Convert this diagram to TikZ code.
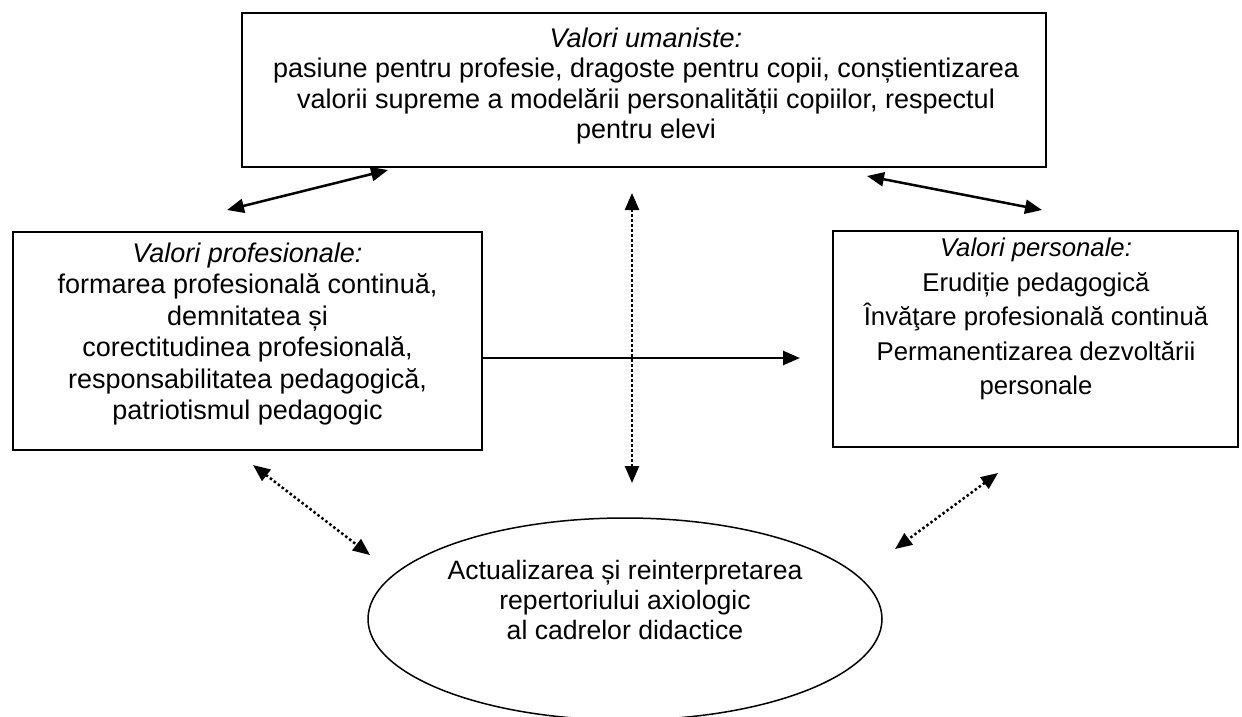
\documentclass[tikz,border=0pt]{standalone}
\usepackage{fontspec}
\setmainfont{Liberation Sans}
\usetikzlibrary{arrows.meta,shapes.geometric}
\tikzset{
    valbox/.style={draw,rectangle,line width=2pt,inner sep=0pt},
    goal/.style={draw,ellipse,line width=1.5pt,inner sep=0pt},
    valtext/.style={align=center,inner sep=0pt,font=\fontsize{27}{31}\selectfont},
    link/.style={line width=2.5pt,{Triangle[length=17pt,width=14pt]}-{Triangle[length=17pt,width=14pt]}},
    dotlink/.style={link,dash pattern=on 2.5pt off 2.5pt},
    flow/.style={line width=2.5pt,-{Triangle[length=17pt,width=14pt]}},
}

\begin{document}
\begin{tikzpicture}[x=1pt,y=-1pt]
    \useasboundingbox (0,0) rectangle (1242,717);
    \clip (0,0) rectangle (1242,717);

    % boxes
    \node[valbox,minimum width=804,minimum height=154] (uman) at (644,90) {};
    \node[valbox,minimum width=469,minimum height=218] (prof) at (247.5,341) {};
    \node[valbox,minimum width=405,minimum height=216] (pers) at (1035.5,339) {};
    \node[goal,minimum width=514,minimum height=202] (act) at (625,619) {};

    % texts
    \node[valtext,font=\fontsize{27}{30.3}\selectfont] (umantext) at (646,86)
        {\textit{Valori umaniste:}\\pasiune pentru profesie, dragoste pentru copii, conștientizarea\\valorii supreme a modelării personalității copiilor, respectul\\pentru elevi};
    \node[valtext,font=\fontsize{27}{31.4}\selectfont] (proftext) at (247.5,334)
        {\textit{Valori profesionale:}\\formarea profesională continuă,\\demnitatea și\\corectitudinea profesională,\\responsabilitatea pedagogică,\\patriotismul pedagogic};
    \node[valtext,font=\fontsize{25.7}{34.6}\selectfont] (perstext) at (1036,319)
        {\textit{Valori personale:}\\Erudiție pedagogică\\Învăţare profesională continuă\\Permanentizarea dezvoltării\\personale};
    \node[valtext,font=\fontsize{26.6}{30}\selectfont] (acttext) at (625,600)
        {Actualizarea și reinterpretarea\\repertoriului axiologic\\al cadrelor didactice};

    % arrow ends
    \coordinate (ul) at (227,210);
    \coordinate (ur) at (388,170);
    \coordinate (rl) at (867,176);
    \coordinate (rr) at (1042,210);
    \coordinate (vt) at (632,193);
    \coordinate (vb) at (632,483);
    \coordinate (hr) at (800,358);
    \coordinate (lt) at (253,465);
    \coordinate (lb) at (370,555);
    \coordinate (rt) at (998,473);
    \coordinate (rb) at (895,549);

    \draw[link] (ul) -- (ur);
    \draw[link] (rl) -- (rr);
    \draw[dotlink] (vt) -- (vb);
    \draw[flow] (prof.east |- hr) -- (hr);
    \draw[dotlink] (lt) -- (lb);
    \draw[dotlink] (rt) -- (rb);
\end{tikzpicture}
\end{document}
